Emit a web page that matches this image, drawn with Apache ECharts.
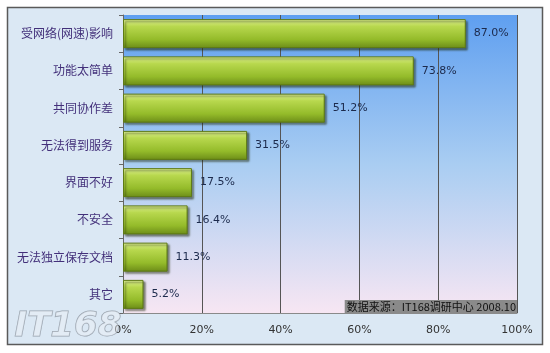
<!DOCTYPE html>
<html>
<head>
<meta charset="utf-8">
<script src="https://cdn.jsdelivr.net/npm/echarts@6/dist/echarts.min.js"></script>
<style>
  html, body { margin: 0; padding: 0; background: #ffffff; }
  #main { width: 550px; height: 353px; }
</style>
</head>
<body>
<div id="main"></div>
<script>
// 分类（从上到下）
var categories = ["受网络(网速)影响", "功能太简单", "共同协作差", "无法得到服务", "界面不好", "不安全", "无法独立保存文档", "其它"];
// 百分比
var values = [87.0, 73.8, 51.2, 31.5, 17.5, 16.4, 11.3, 5.2];
var sourceNote = "数据来源：IT168调研中心 2008.10";

var myChart = echarts.init(document.getElementById("main"));

myChart.setOption({
  backgroundColor: "#ffffff",
  animation: false,
  graphic: [
    {
      // 外框
      type: "rect",
      shape: { x: 7.5, y: 7.5, width: 535, height: 337 },
      style: { fill: "#dbe8f4", stroke: "#5a5a5a", lineWidth: 1.5 },
      z: -10
    },
    {
      // 数据来源
      type: "text",
      right: 33,
      top: 300,
      z: 20,
      style: {
        text: sourceNote,
        fill: "#111111",
        font: "11px 'Noto Sans CJK SC'",
        backgroundColor: "#8a8a8a",
        padding: [0, 1, 0, 2],
        lineHeight: 13
      }
    },
    {
      // 水印
      type: "text",
      left: 14,
      top: 310,
      z: 1,
      style: {
        text: "IT168",
        fill: "rgba(235,240,245,0.5)",
        stroke: "rgba(110,120,130,0.65)",
        lineWidth: 1,
        font: "italic bold 34px 'DejaVu Sans'"
      }
    }
  ],
  grid: {
    left: 123,
    right: 33,
    top: 15,
    bottom: 40,
    show: true,
    borderWidth: 0,
    backgroundColor: {
      type: "linear", x: 0, y: 0, x2: 0, y2: 1,
      colorStops: [
        { offset: 0, color: "#5f9ff0" },
        { offset: 0.5, color: "#a9cdf2" },
        { offset: 1, color: "#f7e6f3" }
      ]
    }
  },
  xAxis: {
    type: "value",
    min: 0,
    max: 100,
    interval: 20,
    axisLine: { show: true, lineStyle: { color: "#8a8a8a", width: 1 } },
    axisTick: { show: false },
    splitLine: { show: true, lineStyle: { color: "#555555", width: 1 } },
    axisLabel: {
      formatter: "{value}%",
      color: "#333333",
      fontSize: 11,
      fontFamily: "'DejaVu Sans'",
      margin: 12
    }
  },
  yAxis: {
    type: "category",
    data: categories,
    inverse: true,
    axisLine: { show: true, lineStyle: { color: "#666666", width: 1 } },
    axisTick: { show: true, length: 4, lineStyle: { color: "#666666" } },
    splitLine: { show: false },
    axisLabel: {
      color: "#43307a",
      fontSize: 12,
      fontFamily: "'Noto Sans CJK SC'",
      margin: 10
    }
  },
  series: [
    {
      type: "bar",
      data: values,
      barWidth: 29,
      itemStyle: {
        color: {
          type: "linear", x: 0, y: 0, x2: 0, y2: 1,
          colorStops: [
            { offset: 0, color: "#e0f296" },
            { offset: 0.25, color: "#b8d84e" },
            { offset: 0.7, color: "#94bb2a" },
            { offset: 1, color: "#6c8c18" }
          ]
        },
        borderColor: "#5e7a14",
        borderWidth: 1,
        shadowColor: "rgba(30,40,10,0.55)",
        shadowBlur: 2,
        shadowOffsetX: 2,
        shadowOffsetY: 2
      },
      label: {
        show: true,
        position: "right",
        distance: 8,
        formatter: function (p) { return p.value.toFixed(1) + "%"; },
        color: "#1c2a4c",
        fontSize: 11,
        fontFamily: "'DejaVu Sans'"
      }
    }
  ]
});
</script>
</body>
</html>
